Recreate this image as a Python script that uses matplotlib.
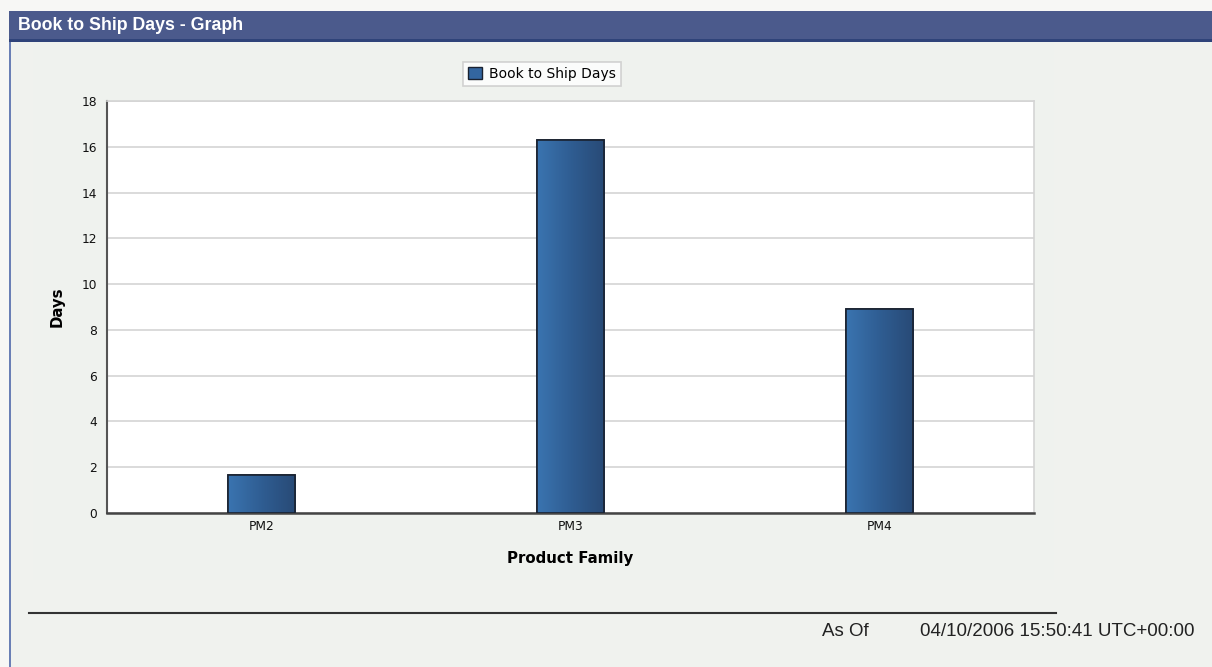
import numpy as np
import matplotlib.pyplot as plt
from matplotlib.patches import Rectangle
from matplotlib.lines import Line2D
from matplotlib.colors import LinearSegmentedColormap

# данные графика
families = ["PM2", "PM3", "PM4"]
ship_days = [1.65, 16.3, 8.9]
y_ticks = [0, 2, 4, 6, 8, 10, 12, 14, 16, 18]

W, H = 1212, 667
fig = plt.figure(figsize=(W / 100, H / 100), dpi=100)
fig.patch.set_facecolor("#f7f7f5")

def box(x0, y0, x1, y1, **kw):
    # прямоугольник в пикселях (отсчёт сверху), под осями
    fig.add_artist(Rectangle((x0 / W, 1 - y1 / H), (x1 - x0) / W, (y1 - y0) / H,
                             transform=fig.transFigure, zorder=-5, **kw))

# панель и заголовок
box(9, 11, 1212, 667, facecolor="#f0f2ee", edgecolor="none")
box(33, 42, 1054, 580, facecolor="#eff2ee", edgecolor="none")
box(9, 11, 1212, 40, facecolor="#4b5a8c", edgecolor="none")
box(9, 39, 1212, 42, facecolor="#2f4379", edgecolor="none")
box(9, 42, 11, 667, facecolor="#6a7fb5", edgecolor="none")
fig.text(18 / W, 1 - 25 / H, "Book to Ship Days - Graph", color="white",
         fontsize=12.8, fontweight="bold", family="Liberation Sans", va="center")

# область графика
ax = fig.add_axes([107 / W, 1 - 513 / H, (1034 - 107) / W, (513 - 101) / H])
ax.set_facecolor("white")
x = np.arange(len(families))
bars = ax.bar(x, ship_days, width=0.22, color="#3366a0", edgecolor="#1a2230",
              linewidth=1.2, zorder=3, label="Book to Ship Days")

# градиент на столбцах
cmap = LinearSegmentedColormap.from_list("g", ["#3a74b0", "#2f5d92", "#284a76"])
grad = np.linspace(0, 1, 64).reshape(1, -1)
for b in bars:
    im = ax.imshow(grad, cmap=cmap, aspect="auto", zorder=3.5,
                   extent=[b.get_x(), b.get_x() + b.get_width(), 0, b.get_height()])
    im.set_clip_path(b)
    ax.bar(b.get_x() + b.get_width() / 2, b.get_height(), width=b.get_width(),
           facecolor="none", edgecolor="#1a2230", linewidth=1.2, zorder=4)

ax.set_xlim(-0.5, 2.5)
ax.set_ylim(0, 18)
ax.set_yticks(y_ticks)
ax.set_xticks(x)
ax.set_xticklabels(families)
ax.tick_params(axis="both", length=0, labelsize=8.8, colors="#111111")
ax.tick_params(axis="y", pad=7)
ax.tick_params(axis="x", pad=5)
ax.yaxis.grid(True, color="#d4d4d4", linewidth=1.2, zorder=0)
ax.set_axisbelow(True)
for s in ["top", "right"]:
    ax.spines[s].set_color("#d4d4d4")
    ax.spines[s].set_linewidth(1.2)
ax.spines["left"].set_color("#555555")
ax.spines["left"].set_linewidth(1.5)
ax.spines["bottom"].set_color("#444444")
ax.spines["bottom"].set_linewidth(1.8)
ax.set_ylabel("Days", fontsize=10.8, fontweight="bold", labelpad=12)
ax.set_xlabel("Product Family", fontsize=10.8, fontweight="bold", labelpad=13)

# легенда
handle = Rectangle((0, 0), 1, 1, facecolor="#3366a0", edgecolor="#1a2230")
leg = fig.legend([handle], ["Book to Ship Days"], loc="center",
                 bbox_to_anchor=(542 / W, 1 - 74 / H), fontsize=10,
                 frameon=True, fancybox=False, handlelength=1.0,
                 handleheight=1.0, handletextpad=0.5, borderpad=0.35)
leg.get_frame().set_edgecolor("#c8c8c8")
leg.get_frame().set_linewidth(1.2)

# подвал с датой
fig.add_artist(Line2D([29 / W, 1056 / W], [1 - 613 / H, 1 - 613 / H],
                      transform=fig.transFigure, color="#333333", linewidth=1.5))
fig.text(822 / W, 1 - 631 / H, "As Of", fontsize=13.5, family="Liberation Sans",
         color="#222222", va="center")
fig.text(920 / W, 1 - 631 / H, "04/10/2006 15:50:41 UTC+00:00", fontsize=13.5,
         family="Liberation Sans", color="#222222", va="center")

fig.savefig("out.png", dpi=100)
